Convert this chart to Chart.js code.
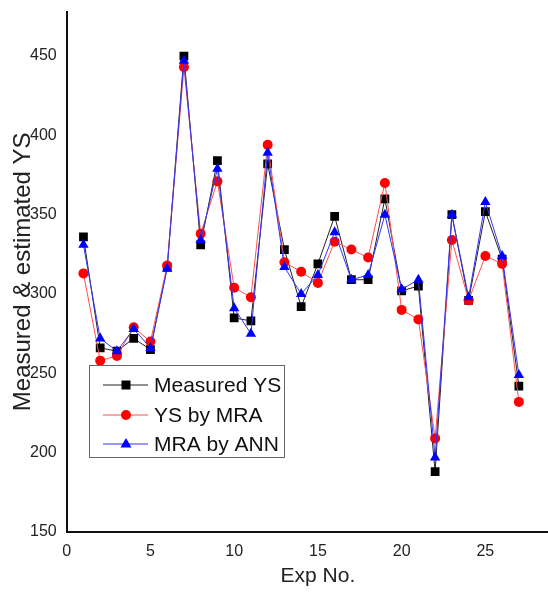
<!DOCTYPE html>
<html>
<head>
<meta charset="utf-8">
<script src="https://cdn.jsdelivr.net/npm/chart.js@4/dist/chart.umd.min.js"></script>
<style>
  html, body { margin: 0; padding: 0; background: #fff; overflow: hidden; }
  #wrap { width: 580px; height: 594px; }
</style>
</head>
<body>
<div id="wrap"><canvas id="c" width="580" height="594"></canvas></div>
<script>
const expNo = [1,2,3,4,5,6,7,8,9,10,11,12,13,14,15,16,17,18,19,20,21,22,23,24,25,26,27];
const measuredYS = [336,266,264,272,265,317,450,331,384,285,283,382,328,292,319,349,309,309,360,302,305,188,350,296,352,322,242];
const ysByMRA    = [313,258,261,279,270,318,443,338,371,304,298,394,320,314,307,333,328,323,370,290,284,209,334,296,324,319,232];
const mraByANN   = [331,272,264,278,266,316,447,334,379,291,275,389,317,300,312,339,309,312,350,303,309,197,350,298,358,324,249];
const xTicks = [0,5,10,15,20,25,30];
const yTicks = [150,200,250,300,350,400,450];
const seriesNames = ['Measured YS','YS by MRA','MRA by ANN'];

const FONT = "'Liberation Sans', Arial, Helvetica, sans-serif";

function pts(arr) { return arr.map((v, i) => ({ x: expNo[i], y: v })); }

const legendPlugin = {
  id: 'insideLegend',
  afterDatasetsDraw(chart) {
    const ctx = chart.ctx;
    const box = { x: 89.5, y: 365.5, w: 195, h: 92 };
    ctx.save();
    ctx.fillStyle = '#fff';
    ctx.fillRect(box.x, box.y, box.w, box.h);
    ctx.strokeStyle = '#666';
    ctx.lineWidth = 1;
    ctx.strokeRect(box.x, box.y, box.w, box.h);
    const rows = [385, 415, 444];
    chart.data.datasets.forEach((ds, i) => {
      const y = rows[i];
      ctx.strokeStyle = ds.borderColor;
      ctx.lineWidth = 1;
      ctx.beginPath();
      ctx.moveTo(103, y);
      ctx.lineTo(148, y);
      ctx.stroke();
      ctx.fillStyle = ds.pointBackgroundColor;
      const cx = 126;
      if (ds.pointStyle === 'rect') {
        ctx.fillRect(cx - 4.5, y - 4.5, 9, 9);
      } else if (ds.pointStyle === 'circle') {
        ctx.beginPath(); ctx.arc(cx, y, 5, 0, Math.PI * 2); ctx.fill();
      } else {
        ctx.beginPath();
        ctx.moveTo(cx, y - 6); ctx.lineTo(cx + 5.5, y + 3.5); ctx.lineTo(cx - 5.5, y + 3.5);
        ctx.closePath(); ctx.fill();
      }
      ctx.fillStyle = '#111';
      ctx.font = '21px ' + FONT;
      ctx.textBaseline = 'middle';
      ctx.textAlign = 'left';
      ctx.fillText(ds.label, 154, y + 1);
    });
    ctx.restore();
  }
};

new Chart(document.getElementById('c'), {
  type: 'line',
  data: {
    datasets: [
      { label: seriesNames[0], data: pts(measuredYS), borderColor: '#222', backgroundColor: '#000',
        pointBackgroundColor: '#000', pointBorderColor: '#000', pointStyle: 'rect', pointRadius: 6.2,
        borderWidth: 1, pointBorderWidth: 0, order: 3 },
      { label: seriesNames[1], data: pts(ysByMRA), borderColor: '#ff5050', backgroundColor: '#ff0000',
        pointBackgroundColor: '#ff0000', pointBorderColor: '#ff0000', pointStyle: 'circle', pointRadius: 5,
        borderWidth: 1, pointBorderWidth: 0, order: 2 },
      { label: seriesNames[2], data: pts(mraByANN), borderColor: '#3333ff', backgroundColor: '#0000ff',
        pointBackgroundColor: '#0000ff', pointBorderColor: '#0000ff', pointStyle: 'triangle', pointRadius: 6,
        borderWidth: 1, pointBorderWidth: 0, order: 1 }
    ]
  },
  options: {
    responsive: false,
    animation: false,
    events: [],
    layout: { padding: { top: 6.7, right: 9.3, left: 0, bottom: 0 } },
    plugins: { legend: { display: false }, tooltip: { enabled: false } },
    scales: {
      x: {
        type: 'linear', min: 0, max: 30,
        afterBuildTicks(scale) { scale.ticks = xTicks.map(v => ({ value: v })); },
        afterFit(scale) { scale.height = 62; },
        grid: { display: false },
        border: { display: true, color: '#111', width: 2 },
        ticks: { color: '#222', font: { family: FONT, size: 16 }, padding: 2, maxRotation: 0, autoSkip: false },
        title: { display: true, text: 'Exp No.', color: '#222', font: { family: FONT, size: 21 }, padding: { top: 0, bottom: 5 } }
      },
      y: {
        type: 'linear', min: 150, max: 478,
        afterBuildTicks(scale) { scale.ticks = yTicks.map(v => ({ value: v })); },
        afterFit(scale) { scale.width = 66.7; },
        grid: { display: false },
        border: { display: true, color: '#111', width: 2 },
        ticks: { color: '#222', font: { family: FONT, size: 16 }, padding: 2, autoSkip: false },
        title: { display: true, text: 'Measured & estimated YS', color: '#222', font: { family: FONT, size: 24 }, padding: { top: 9, bottom: 0 } }
      }
    }
  },
  plugins: [legendPlugin]
});
</script>
</body>
</html>
